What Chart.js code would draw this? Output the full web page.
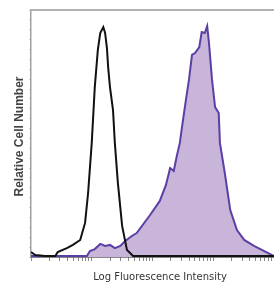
<!DOCTYPE html>
<html>
<head>
<meta charset="utf-8">
<script src="https://cdn.jsdelivr.net/npm/chart.js@4/dist/chart.umd.min.js"></script>
<style>
  html, body { margin: 0; padding: 0; background: #fff; overflow: hidden; }
  #wrap { width: 274px; height: 285px; }
</style>
</head>
<body>
<div id="wrap"><canvas id="histChart" width="274" height="285"></canvas></div>
<script>
// x = log10 decades of fluorescence, y = relative cell number (% of max scale)
const isotypeX = [0, 0.07, 0.23, 0.40, 0.44, 0.59, 0.69, 0.81, 0.89, 0.94, 1.00, 1.05, 1.10, 1.14, 1.19, 1.22, 1.25, 1.27, 1.30, 1.35, 1.38, 1.43, 1.50, 1.58, 1.68, 4.0];
const isotypeY = [2.0, 0.8, 0.4, 0.4, 2.0, 3.6, 4.9, 6.9, 13.8, 25.9, 46.2, 68.8, 83.8, 90.7, 93.1, 90.7, 84.6, 76.9, 68.8, 59.5, 46.2, 30.0, 12.6, 2.8, 0.4, 0.4];

const stainedX = [0, 0.92, 0.97, 1.05, 1.14, 1.22, 1.30, 1.38, 1.47, 1.55, 1.66, 1.74, 1.96, 2.12, 2.22, 2.27, 2.29, 2.35, 2.40, 2.45, 2.49, 2.55, 2.60, 2.65, 2.70, 2.77, 2.81, 2.86, 2.90, 2.93, 2.98, 3.03, 3.09, 3.11, 3.19, 3.28, 3.39, 3.51, 3.67, 3.84, 4.0];
const stainedY = [0.4, 0.4, 2.4, 3.2, 5.3, 4.5, 4.9, 3.6, 4.5, 6.5, 8.5, 9.7, 17.0, 22.7, 29.1, 34.0, 36.0, 34.8, 40.9, 46.2, 53.4, 63.6, 71.7, 81.8, 82.6, 85.0, 91.1, 90.7, 93.5, 86.6, 71.7, 60.7, 58.3, 46.2, 34.0, 19.0, 10.9, 6.9, 4.5, 2.4, 0.4];

const decades = [0, 1, 2, 3, 4];
const xTitle = "Log Fluorescence Intensity";
const yTitle = "Relative Cell Number";

function toPoints(xs, ys) {
  return xs.map((x, i) => ({ x: x, y: ys[i] }));
}

// tick marks at 1..9 x 10^n on the decade axis
function logTicks() {
  const out = [];
  for (let n = 0; n < decades.length - 1; n++) {
    for (let k = 1; k < 10; k++) out.push({ value: decades[n] + Math.log10(k) });
  }
  out.push({ value: decades[decades.length - 1] });
  return out;
}

// top frame line + axis titles
const framePlugin = {
  id: "frameAndTitles",
  afterDraw(chart) {
    const c = chart.ctx;
    const area = chart.chartArea;
    c.save();
    c.strokeStyle = "#b0b0b0";
    c.lineWidth = 2;
    c.beginPath();
    c.moveTo(area.left - 1, area.top);
    c.lineTo(area.right, area.top);
    c.stroke();

    c.fillStyle = "#333";
    c.textAlign = "center";
    c.textBaseline = "middle";
    c.font = "10px 'DejaVu Sans'";
    c.fillText(xTitle, 160, 277);
    c.translate(20, (area.top + area.bottom) / 2 + 3);
    c.rotate(-Math.PI / 2);
    c.font = "bold 12px 'Liberation Sans'";
    c.fillStyle = "#444";
    c.fillText(yTitle, 0, 0);
    c.restore();
  },
};

const ctx = document.getElementById("histChart").getContext("2d");

const histChart = new Chart(ctx, {
  type: "scatter",
  data: {
    datasets: [
      {
        label: "Isotype",
        data: toPoints(isotypeX, isotypeY),
        showLine: true,
        borderColor: "#111",
        borderWidth: 2,
        pointRadius: 0,
        fill: false,
        order: 0,
      },
      {
        label: "Stained",
        data: toPoints(stainedX, stainedY),
        showLine: true,
        borderColor: "#5a40a4",
        backgroundColor: "#c9b5d9",
        borderWidth: 2,
        pointRadius: 0,
        fill: "origin",
        order: 1,
      },
    ],
  },
  options: {
    responsive: false,
    animation: false,
    layout: { padding: { top: 10, right: 0, left: 0, bottom: 0 } },
    plugins: {
      legend: { display: false },
      tooltip: { enabled: false },
    },
    scales: {
      x: {
        type: "linear",
        position: "bottom",
        min: 0,
        max: 4,
        afterBuildTicks: (scale) => { scale.ticks = logTicks(); },
        afterFit: (scale) => { scale.height = 28; },
        ticks: { display: false },
        grid: {
          drawOnChartArea: false,
          drawTicks: true,
          tickLength: 4,
          color: "#888",
        },
        border: { display: true, color: "#111", width: 1.5 },
      },
      y: {
        min: 0,
        max: 100,
        afterFit: (scale) => { scale.width = 31; },
        ticks: { display: false, stepSize: 4 },
        grid: {
          drawOnChartArea: false,
          drawTicks: true,
          tickLength: 2,
          color: "#d0d0d0",
        },
        border: { display: true, color: "#a0a0a0", width: 1.5 },
      },
    },
  },
  plugins: [framePlugin],
});
</script>
</body>
</html>
